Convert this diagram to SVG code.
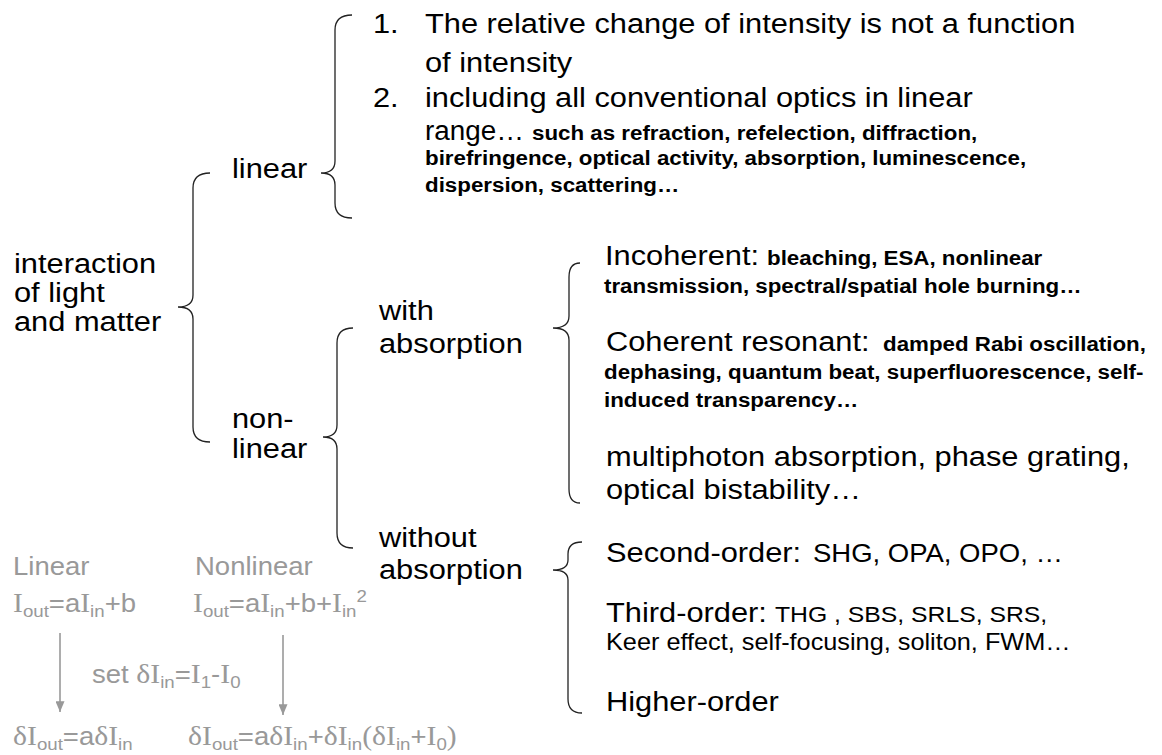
<svg xmlns="http://www.w3.org/2000/svg" width="1162" height="755" viewBox="0 0 1162 755">
<style>
text{font-family:"Liberation Sans",Arial,sans-serif;fill:#000}
.m{font-size:28px}
.s{font-size:20.3px;font-weight:bold}
.r{font-size:25px}
.r2{font-size:22.5px}
.r3{font-size:23px}
.g{fill:#999;font-size:25px}
.se{font-family:"Liberation Serif","Times New Roman",serif;font-size:27px}
.sub{font-size:17px}
.brace{fill:none;stroke:#222;stroke-width:1.3}
.arrow{fill:none;stroke:#999;stroke-width:1.6}
</style>
<defs>
<marker id="ah" viewBox="0 0 12 10" refX="12" refY="5" markerWidth="11" markerHeight="9" markerUnits="userSpaceOnUse" orient="auto">
<path d="M0,0 L12,5 L0,10 z" fill="#999"/>
</marker>
</defs>
<rect width="1162" height="755" fill="#fff"/>

<g id="connectors">
<path class="brace" d="M210,173 Q193,173 193,188 L193,295 Q193,307 178,307 Q193,307 193,319 L193,427 Q193,442 210,442"/>
<path class="brace" d="M352,15 Q335,15 335,30 L335,161 Q335,173 321,173 Q335,173 335,185 L335,203 Q335,218 352,218"/>
<path class="brace" d="M353,328 Q337,328 337,343 L337,425 Q337,437 323,437 Q337,437 337,449 L337,533 Q337,548 353,548"/>
<path class="brace" d="M580,263 Q569,263 569,277 L569,316 Q569,328 553,328 Q569,328 569,340 L569,489 Q569,503 580,503"/>
<path class="brace" d="M582,542 Q568,542 568,554 L568,560 Q568,570 553,570 Q568,570 568,580 L568,699 Q568,713 582,713"/>
<line class="arrow" x1="60" y1="633" x2="60" y2="712" marker-end="url(#ah)"/>
<line class="arrow" x1="283" y1="635" x2="283" y2="715" marker-end="url(#ah)"/>
</g>

<g id="root">
<text class="m" transform="translate(14,273) scale(1.1,1)">interaction</text>
<text class="m" transform="translate(14,302) scale(1.1,1)">of light</text>
<text class="m" transform="translate(14,331) scale(1.1,1)">and matter</text>
</g>

<g id="linear">
<text class="m" transform="translate(232,178) scale(1.1,1)">linear</text>
</g>

<g id="linear-props">
<text class="m" transform="translate(373,33) scale(1.1,1)">1.</text>
<text class="m" transform="translate(425,33) scale(1.1,1)">The relative change of intensity is not a function</text>
<text class="m" transform="translate(425,72) scale(1.1,1)">of intensity</text>
<text class="m" transform="translate(373,107) scale(1.1,1)">2.</text>
<text class="m" transform="translate(425,107) scale(1.1,1)">including all conventional optics in linear</text>
<text class="m" transform="translate(425,140) scale(1.1,1)" textLength="90" lengthAdjust="spacingAndGlyphs">range…</text>
<text class="s" transform="translate(532,140) scale(1.1,1)">such as refraction, refelection, diffraction,</text>
<text class="s" transform="translate(425,165) scale(1.1,1)">birefringence, optical activity, absorption, luminescence,</text>
<text class="s" transform="translate(425,192) scale(1.1,1)">dispersion, scattering…</text>
</g>

<g id="nonlinear">
<text class="m" transform="translate(232,428) scale(1.1,1)">non-</text>
<text class="m" transform="translate(232,458) scale(1.1,1)">linear</text>
</g>

<g id="with-absorption">
<text class="m" transform="translate(379,320) scale(1.1,1)">with</text>
<text class="m" transform="translate(379,353) scale(1.1,1)">absorption</text>
</g>

<g id="without-absorption">
<text class="m" transform="translate(379,547) scale(1.1,1)">without</text>
<text class="m" transform="translate(379,579) scale(1.1,1)">absorption</text>
</g>

<g id="incoherent">
<text class="m" transform="translate(605,265) scale(1.1,1)">Incoherent:</text>
<text class="s" transform="translate(767,265) scale(1.1,1)">bleaching, ESA, nonlinear</text>
<text class="s" transform="translate(604,293) scale(1.1,1)">transmission, spectral/spatial hole burning…</text>
</g>

<g id="coherent">
<text class="m" transform="translate(606,351) scale(1.1,1)">Coherent resonant:</text>
<text class="s" transform="translate(883,351) scale(1.1,1)">damped Rabi oscillation,</text>
<text class="s" transform="translate(604,379) scale(1.1,1)">dephasing, quantum beat, superfluorescence, self-</text>
<text class="s" transform="translate(604,407) scale(1.1,1)">induced transparency…</text>
</g>

<g id="multiphoton">
<text class="m" transform="translate(606,466) scale(1.1,1)">multiphoton absorption, phase grating,</text>
<text class="m" transform="translate(606,499) scale(1.1,1)">optical bistability…</text>
</g>

<g id="second-order">
<text class="m" transform="translate(606,562) scale(1.1,1)">Second-order:</text>
<text class="r" transform="translate(813,562) scale(1.1,1)">SHG, OPA, OPO, …</text>
</g>

<g id="third-order">
<text class="m" transform="translate(606,622) scale(1.1,1)">Third-order:</text>
<text class="r2" transform="translate(775,622) scale(1.1,1)">THG , SBS, SRLS, SRS,</text>
<text class="r3" transform="translate(606,650) scale(1.1,1)">Keer effect, self-focusing, soliton, FWM…</text>
</g>

<g id="higher-order">
<text class="m" transform="translate(606,711) scale(1.1,1)">Higher-order</text>
</g>

<g id="linear-formula">
<text class="g" transform="translate(13,575) scale(1.1,1)">Linear</text>
<text class="g" transform="translate(13,612) scale(1.1,1)"><tspan class="se">I</tspan><tspan class="sub" dy="5">out</tspan><tspan dy="-5">=a</tspan><tspan class="se">I</tspan><tspan class="sub" dy="5">in</tspan><tspan dy="-5">+b</tspan></text>
<text class="g" transform="translate(13,745) scale(1.1,1)"><tspan class="se">δI</tspan><tspan class="sub" dy="5">out</tspan><tspan dy="-5">=a</tspan><tspan class="se">δI</tspan><tspan class="sub" dy="5">in</tspan></text>
</g>

<g id="set-label">
<text class="g" transform="translate(92,683) scale(1.1,1)">set <tspan class="se">δI</tspan><tspan class="sub" dy="5">in</tspan><tspan dy="-5">=</tspan><tspan class="se">I</tspan><tspan class="sub" dy="5">1</tspan><tspan dy="-5">-</tspan><tspan class="se">I</tspan><tspan class="sub" dy="5">0</tspan></text>
</g>

<g id="nonlinear-formula">
<text class="g" transform="translate(195,575) scale(1.1,1)">Nonlinear</text>
<text class="g" transform="translate(193,612) scale(1.1,1)"><tspan class="se">I</tspan><tspan class="sub" dy="5">out</tspan><tspan dy="-5">=a</tspan><tspan class="se">I</tspan><tspan class="sub" dy="5">in</tspan><tspan dy="-5">+b+</tspan><tspan class="se">I</tspan><tspan class="sub" dy="5">in</tspan><tspan class="sub" dy="-15">2</tspan></text>
<text class="g" transform="translate(188,745) scale(1.1,1)"><tspan class="se">δI</tspan><tspan class="sub" dy="5">out</tspan><tspan dy="-5">=a</tspan><tspan class="se">δI</tspan><tspan class="sub" dy="5">in</tspan><tspan dy="-5">+</tspan><tspan class="se">δI</tspan><tspan class="sub" dy="5">in</tspan><tspan class="se" dy="-5">(δI</tspan><tspan class="sub" dy="5">in</tspan><tspan dy="-5">+</tspan><tspan class="se">I</tspan><tspan class="sub" dy="5">0</tspan><tspan class="se" dy="-5">)</tspan></text>
</g>
</svg>
